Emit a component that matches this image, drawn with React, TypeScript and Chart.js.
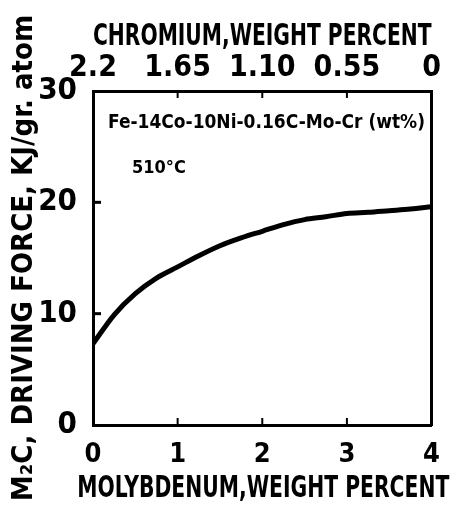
import React, { useEffect, useRef } from "react";
import { Chart, registerables } from "chart.js";

Chart.register(...registerables);

const moPercent = [0, 0.25, 0.5, 0.75, 1, 1.25, 1.5, 1.75, 2, 2.25, 2.5, 2.75, 3, 3.25, 3.5, 3.75, 4];
const drivingForce = [7.3, 9.9, 11.8, 13.2, 14.2, 15.2, 16.1, 16.8, 17.4, 18.0, 18.45, 18.7, 19.0, 19.1, 19.25, 19.4, 19.6];
const moTickLabels = ["0", "1", "2", "3", "4"];
const crTickLabels = ["2.2", "1.65", "1.10", "0.55", "0"];
const yTickLabels = ["0", "10", "20", "30"];
const xTitle = "MOLYBDENUM,WEIGHT PERCENT";
const x2Title = "CHROMIUM,WEIGHT PERCENT";
const yTitle = "M\u2082C, DRIVING FORCE, KJ/gr. atom";
const noteAlloy = "Fe-14Co-10Ni-0.16C-Mo-Cr (wt%)";
const noteTemp = "510\u00B0C";

const FAMILY = '"DejaVu Sans Condensed", "Liberation Sans", sans-serif';

const innerTicks = {
  id: "innerTicks",
  afterDatasetsDraw(chart: any) {
    const { ctx, chartArea, scales } = chart;
    ctx.save();
    ctx.strokeStyle = "#000";
    ctx.lineWidth = 3;
    scales.y.ticks.forEach((t: any) => {
      if (t.value <= scales.y.min || t.value >= scales.y.max) return;
      const py = scales.y.getPixelForValue(t.value);
      ctx.beginPath();
      ctx.moveTo(chartArea.left, py);
      ctx.lineTo(chartArea.left + 8, py);
      ctx.stroke();
    });
    ctx.lineWidth = 2;
    scales.x.ticks.forEach((t: any) => {
      if (t.value <= scales.x.min || t.value >= scales.x.max) return;
      const px = scales.x.getPixelForValue(t.value);
      ctx.beginPath();
      ctx.moveTo(px, chartArea.bottom);
      ctx.lineTo(px, chartArea.bottom - 7);
      ctx.stroke();
      ctx.beginPath();
      ctx.moveTo(px, chartArea.top);
      ctx.lineTo(px, chartArea.top + 7);
      ctx.stroke();
    });
    ctx.fillStyle = "#000";
    ctx.textBaseline = "middle";
    ctx.textAlign = "left";
    ctx.font = `bold 19px ${FAMILY}`;
    ctx.fillText(noteAlloy, chartArea.left + 15, chartArea.top + 32, 317);
    ctx.font = `bold 18px ${FAMILY}`;
    ctx.fillText(noteTemp, chartArea.left + 39, chartArea.top + 77);
    // bottom axis title (drawn here so it may be wider than the plot area)
    ctx.textAlign = "center";
    ctx.font = `bold 31px ${FAMILY}`;
    ctx.fillText(xTitle, (chartArea.left + chartArea.right) / 2 + 1, chartArea.bottom + 64, 372);
    ctx.restore();
  },
};

export default function App() {
  const ref = useRef<HTMLCanvasElement | null>(null);
  useEffect(() => {
    if (!ref.current) return;
    const font = (size: number) => ({ family: FAMILY, size, weight: "bold" as const });
    const chart = new Chart(ref.current, {
      type: "line",
      data: {
        datasets: [
          {
            data: moPercent.map((x, i) => ({ x, y: drivingForce[i] })),
            borderColor: "#000",
            borderWidth: 5,
            pointRadius: 0,
            fill: false,
            cubicInterpolationMode: "monotone",
          },
        ],
      },
      options: {
        animation: false,
        responsive: false,
        maintainAspectRatio: false,
        layout: { padding: { left: 0, right: 21, top: 0, bottom: 0 } },
        plugins: { legend: { display: false }, tooltip: { enabled: false } },
        scales: {
          x: {
            type: "linear",
            position: "bottom",
            min: 0,
            max: 4,
            afterFit: (s: any) => { s.height = 88; },
            grid: { display: false, drawTicks: false },
            border: { display: true, color: "#000", width: 3 },
            ticks: {
              stepSize: 1,
              autoSkip: false,
              maxRotation: 0,
              color: "#000",
              font: font(27),
              padding: 14,
              callback: (_v: any, i: number) => moTickLabels[i],
            },
            title: { display: false, text: xTitle },
          },
          x2: {
            type: "linear",
            position: "top",
            min: 0,
            max: 4,
            afterFit: (s: any) => { s.height = 91; },
            grid: { display: false, drawTicks: false },
            border: { display: true, color: "#000", width: 3 },
            ticks: {
              stepSize: 1,
              autoSkip: false,
              maxRotation: 0,
              color: "#000",
              font: font(30),
              padding: 5,
              callback: (_v: any, i: number) => crTickLabels[i],
            },
            title: { display: true, text: x2Title, color: "#000", font: font(30), padding: { top: 19, bottom: 0 } },
          },
          y: {
            type: "linear",
            position: "left",
            min: 0,
            max: 30,
            afterFit: (s: any) => { s.width = 93; },
            grid: { display: false, drawTicks: false },
            border: { display: true, color: "#000", width: 3 },
            ticks: {
              stepSize: 10,
              autoSkip: false,
              color: "#000",
              font: font(31),
              padding: 16,
              callback: (_v: any, i: number) => yTickLabels[i],
            },
            title: { display: true, text: yTitle, color: "#000", font: font(29), padding: { top: 7, bottom: 0 } },
          },
          y2: {
            type: "linear",
            position: "right",
            min: 0,
            max: 30,
            afterFit: (s: any) => { s.width = 0; },
            grid: { display: false, drawTicks: false },
            border: { display: true, color: "#000", width: 3 },
            ticks: { display: false },
          },
        },
      },
      plugins: [innerTicks],
    });
    return () => chart.destroy();
  }, []);
  return (
    <div style={{ position: "absolute", left: 0, top: 0, width: 454, height: 513, background: "#fff" }}>
      <canvas ref={ref} width={454} height={513} style={{ width: 454, height: 513 }} />
    </div>
  );
}
